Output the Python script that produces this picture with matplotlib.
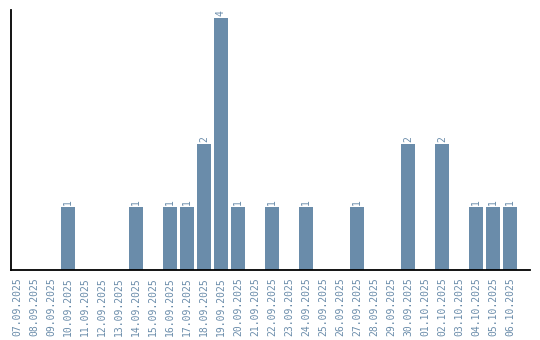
import matplotlib
matplotlib.use("Agg")
import matplotlib.pyplot as plt

dates = ["07.09.2025", "08.09.2025", "09.09.2025", "10.09.2025", "11.09.2025",
         "12.09.2025", "13.09.2025", "14.09.2025", "15.09.2025", "16.09.2025",
         "17.09.2025", "18.09.2025", "19.09.2025", "20.09.2025", "21.09.2025",
         "22.09.2025", "23.09.2025", "24.09.2025", "25.09.2025", "26.09.2025",
         "27.09.2025", "28.09.2025", "29.09.2025", "30.09.2025", "01.10.2025",
         "02.10.2025", "03.10.2025", "04.10.2025", "05.10.2025", "06.10.2025"]
counts = [0, 0, 0, 1, 0, 0, 0, 1, 0, 1,
          1, 2, 4, 1, 0, 1, 0, 1, 0, 0,
          1, 0, 0, 2, 0, 2, 0, 1, 1, 1]

color = "#6a8caa"

fig = plt.figure(figsize=(5.4, 3.4), dpi=100)
ax = fig.add_axes([11/540, 70/340, 519/540, 260/340])

x = range(len(dates))
ax.bar(x, counts, width=0.82, color=color)
for i, v in enumerate(counts):
    if v > 0:
        ax.text(i, v + 0.04, str(v), rotation=90, ha="center", va="bottom",
                color=color, fontsize=7, family="DejaVu Sans Mono")

ax.set_xlim(-0.35, 30.18)
ax.set_ylim(0, 4.13)
ax.set_xticks(list(x))
ax.set_xticklabels(dates, rotation=90, color=color, fontsize=7,
                   family="DejaVu Sans Mono")
ax.tick_params(axis="x", length=0, pad=5)
ax.set_yticks([])
ax.spines["top"].set_visible(False)
ax.spines["right"].set_visible(False)
ax.spines["left"].set_linewidth(1.3)
ax.spines["bottom"].set_linewidth(1.3)

plt.savefig("out.png", dpi=100)
